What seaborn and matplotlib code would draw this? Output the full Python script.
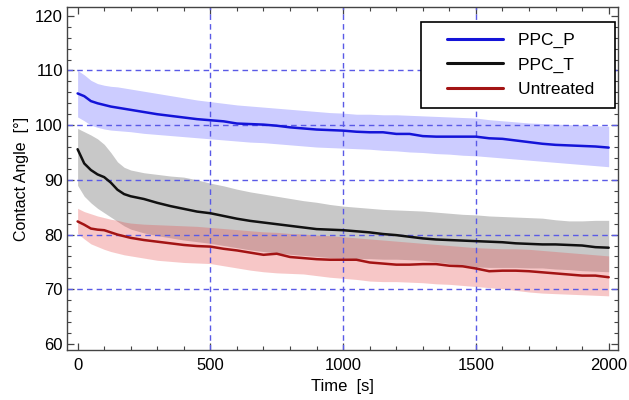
import matplotlib
matplotlib.use("Agg")
import pandas as pd
import matplotlib.pyplot as plt
from matplotlib.ticker import MultipleLocator
from matplotlib.legend_handler import HandlerLine2D
import seaborn as sns

# Time axis (s)
time_s = [0, 25, 50, 75, 100, 125, 150, 175, 200,
          250, 300, 350, 400, 450, 500, 550, 600, 650, 700,
          750, 800, 850, 900, 950, 1000, 1050, 1100, 1150, 1200,
          1250, 1300, 1350, 1400, 1450, 1500, 1550, 1600, 1650, 1700,
          1750, 1800, 1850, 1900, 1950, 2000]

# PPC_P mean and band
ppc_p_mean = [105.8, 105.3, 104.4, 104.0, 103.7, 103.4, 103.2, 103.0, 102.8,
              102.4, 102.0, 101.7, 101.4, 101.1, 100.9, 100.7, 100.3, 100.2, 100.1,
              99.9, 99.6, 99.4, 99.2, 99.1, 99.0, 98.8, 98.7, 98.7, 98.4,
              98.4, 98.0, 97.9, 97.9, 97.9, 97.9, 97.6, 97.5, 97.2, 96.9,
              96.6, 96.4, 96.3, 96.2, 96.1, 95.9]
ppc_p_upper = [110.0, 109.2, 108.2, 107.6, 107.3, 107.1, 107.0, 106.8, 106.6,
               106.2, 105.8, 105.4, 105.0, 104.6, 104.3, 104.0, 103.7, 103.5, 103.3,
               103.1, 102.9, 102.7, 102.5, 102.3, 102.2, 102.0, 102.0, 101.9, 101.9,
               101.8, 101.7, 101.6, 101.5, 101.4, 101.3, 101.0, 100.8, 100.6, 100.4,
               100.3, 100.2, 100.1, 100.0, 99.9, 99.8]
ppc_p_lower = [101.5, 100.8, 100.0, 99.6, 99.3, 99.1, 99.0, 98.9, 98.8,
               98.5, 98.3, 98.1, 97.9, 97.7, 97.5, 97.3, 97.1, 96.9, 96.8,
               96.6, 96.4, 96.2, 96.0, 95.9, 95.8, 95.7, 95.6, 95.4, 95.3,
               95.1, 95.0, 94.8, 94.7, 94.5, 94.4, 94.2, 94.0, 93.8, 93.6,
               93.4, 93.2, 93.0, 92.8, 92.6, 92.4]

# PPC_T mean and band
ppc_t_mean = [95.6, 93.0, 91.8, 91.0, 90.5, 89.5, 88.2, 87.4, 87.0,
              86.5, 85.8, 85.2, 84.7, 84.2, 83.9, 83.4, 82.9, 82.5, 82.2,
              81.9, 81.6, 81.3, 81.0, 80.9, 80.8, 80.6, 80.4, 80.1, 79.9,
              79.6, 79.3, 79.1, 79.0, 78.9, 78.8, 78.7, 78.6, 78.4, 78.3,
              78.2, 78.2, 78.1, 78.0, 77.7, 77.6]
ppc_t_upper = [99.4, 98.8, 98.2, 97.5, 96.5, 95.0, 93.3, 92.3, 91.8,
               91.3, 91.0, 90.7, 90.5, 90.0, 89.4, 88.9, 88.3, 87.8, 87.4,
               87.0, 86.6, 86.2, 85.9, 85.5, 85.2, 85.0, 84.8, 84.6, 84.5,
               84.4, 84.3, 84.1, 83.9, 83.7, 83.6, 83.4, 83.3, 83.2, 83.1,
               83.0, 82.7, 82.5, 82.5, 82.6, 82.6]
ppc_t_lower = [89.0, 87.0, 85.8, 84.8, 84.0, 83.2, 82.4, 81.6, 81.0,
               80.3, 79.8, 79.4, 79.0, 78.7, 78.4, 78.0, 77.6, 77.2, 76.9,
               76.6, 76.4, 76.2, 76.0, 75.8, 75.7, 75.6, 75.6, 75.5, 75.5,
               75.4, 75.3, 75.0, 74.7, 74.4, 74.1, 74.0, 74.0, 74.0, 73.9,
               73.9, 73.7, 73.6, 73.4, 73.3, 73.2]

# Untreated mean and band
untreated_mean = [82.4, 81.8, 81.1, 80.9, 80.8, 80.4, 80.0, 79.7, 79.4,
                  79.0, 78.7, 78.4, 78.1, 77.9, 77.8, 77.4, 77.1, 76.7, 76.3,
                  76.5, 75.9, 75.7, 75.5, 75.4, 75.4, 75.4, 74.9, 74.7, 74.5,
                  74.5, 74.6, 74.6, 74.3, 74.2, 73.8, 73.3, 73.4, 73.4, 73.3,
                  73.1, 72.9, 72.7, 72.5, 72.5, 72.2]
untreated_upper = [84.8, 84.2, 83.8, 83.4, 83.1, 82.8, 82.6, 82.3, 82.1,
                   81.9, 81.8, 81.7, 81.6, 81.5, 81.3, 81.1, 80.9, 80.7, 80.5,
                   80.4, 80.2, 80.1, 79.9, 79.8, 79.6, 79.4, 79.2, 79.0, 78.8,
                   78.6, 78.4, 78.2, 78.0, 77.8, 77.6, 77.5, 77.4, 77.4, 77.3,
                   77.1, 76.9, 76.7, 76.5, 76.3, 76.1]
untreated_lower = [80.2, 79.2, 78.3, 77.8, 77.3, 76.9, 76.6, 76.3, 76.1,
                   75.7, 75.3, 75.1, 74.9, 74.8, 74.7, 74.3, 73.9, 73.5, 73.2,
                   73.0, 72.9, 72.8, 72.5, 72.2, 72.0, 71.8, 71.5, 71.4, 71.4,
                   71.3, 71.2, 71.0, 70.9, 70.7, 70.5, 70.3, 70.1, 69.8, 69.5,
                   69.3, 69.2, 69.1, 69.0, 68.9, 68.8]

samples = ["PPC_P", "PPC_T", "Untreated"]
colors = {"PPC_P": "#1414d8", "PPC_T": "#111111", "Untreated": "#a31414"}

df = pd.concat([
    pd.DataFrame({"Time": time_s, "Angle": ppc_p_mean, "Sample": "PPC_P"}),
    pd.DataFrame({"Time": time_s, "Angle": ppc_t_mean, "Sample": "PPC_T"}),
    pd.DataFrame({"Time": time_s, "Angle": untreated_mean, "Sample": "Untreated"}),
])

sns.set_theme(style="white")
plt.rcParams['font.family'] = ['Liberation Sans', 'DejaVu Sans']

fig, ax = plt.subplots(figsize=(6.29, 4.0), dpi=100)
fig.subplots_adjust(left=0.1065, right=0.9825, bottom=0.125, top=0.9825)

# shaded bands
ax.fill_between(time_s, ppc_t_lower, ppc_t_upper, color="#c8c8c8", lw=0, zorder=1)
ax.fill_between(time_s, untreated_lower, untreated_upper, color="#e74848", alpha=0.3, lw=0, zorder=1.1)
ax.fill_between(time_s, ppc_p_lower, ppc_p_upper, color="#0000ff", alpha=0.2, lw=0, zorder=1.2)

# dashed grid at interior major ticks
for y in [70, 80, 90, 100, 110]:
    ax.axhline(y, color="#5a5ae6", lw=1.0, ls=(0, (4, 3)), zorder=1.5)
for x in [500, 1000, 1500]:
    ax.axvline(x, color="#5a5ae6", lw=1.0, ls=(0, (4, 3)), zorder=1.5)

sns.lineplot(data=df, x="Time", y="Angle", hue="Sample", palette=colors,
             hue_order=samples, estimator=None, sort=False, lw=1.8, ax=ax, zorder=3)

ax.set_xlim(-40, 2035)
ax.set_ylim(58.9, 121.6)
ax.xaxis.set_major_locator(MultipleLocator(500))
ax.xaxis.set_minor_locator(MultipleLocator(100))
ax.yaxis.set_major_locator(MultipleLocator(10))
ax.yaxis.set_minor_locator(MultipleLocator(2))
ax.tick_params(which="both", direction="in", bottom=True, left=True, top=True, right=True,
               color="#444444", labelsize=12, labelcolor="black")
ax.tick_params(axis="x", which="both", pad=6)
ax.tick_params(axis="y", which="both", pad=3)
ax.tick_params(which="major", length=5, width=0.9)
ax.tick_params(which="minor", length=3, width=0.8)
for s in ax.spines.values():
    s.set_color("#444444")
    s.set_linewidth(1.0)

ax.set_xlabel("Time  [s]", fontsize=12, labelpad=4, color="black")
ax.set_ylabel("Contact Angle  [°]", fontsize=11.5, labelpad=4, color="black")

handles, labels = ax.get_legend_handles_labels()
labels = [l + "  " for l in labels]
leg = ax.legend(handles, labels, loc="upper right", bbox_to_anchor=(0.994, 0.956),
                borderaxespad=0, fontsize=12.5, handlelength=4.1, handletextpad=0.9,
                labelspacing=0.55, borderpad=0.6, fancybox=False, framealpha=1,
                handler_map={h: HandlerLine2D(xpad=0.9) for h in handles})
leg.get_frame().set_edgecolor("black")
leg.get_frame().set_linewidth(1.2)
for h in leg.get_lines():
    h.set_linewidth(2.2)
for t in leg.get_texts():
    t.set_color("black")

fig.savefig("out.png", dpi=100)
